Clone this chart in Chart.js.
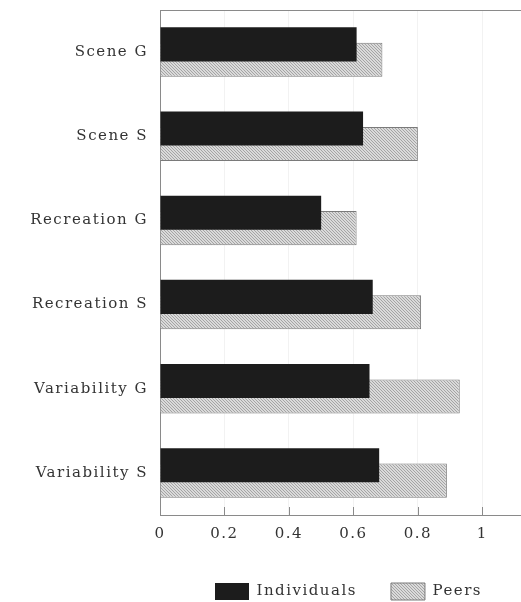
<!DOCTYPE html>
<html>
<head>
<meta charset="utf-8">
<script src="https://cdn.jsdelivr.net/npm/chart.js@4"></script>
<style>
  html, body { margin: 0; padding: 0; background: #fff; }
  #wrap { width: 521px; height: 602px; }
</style>
</head>
<body>
<div id="wrap"><canvas id="chart" width="521" height="602"></canvas></div>
<script>
const categories = ["Scene G", "Scene S", "Recreation G", "Recreation S", "Variability G", "Variability S"];
const individuals = [0.61, 0.63, 0.50, 0.66, 0.65, 0.68];
const peers = [0.69, 0.80, 0.61, 0.81, 0.93, 0.89];
const seriesNames = ["Individuals", "Peers"];
const xTicks = [0, 0.2, 0.4, 0.6, 0.8, 1];

const FONT = "'DejaVu Serif', 'Liberation Serif', serif";

// hatched fill for the Peers bars
function makeHatch() {
  const c = document.createElement("canvas");
  c.width = 3;
  c.height = 3;
  const g = c.getContext("2d");
  g.fillStyle = "#dadada";
  g.fillRect(0, 0, 3, 3);
  g.fillStyle = "#a4a4a4";
  for (let i = 0; i < 3; i++) g.fillRect(i, i, 1, 1);
  return g.createPattern(c, "repeat");
}
const hatch = makeHatch();

// the scanned original uses wide letter spacing
const spacingPlugin = {
  id: "spacing",
  beforeUpdate(chart) {
    chart.ctx.letterSpacing = "1.5px";
  },
  afterLayout(chart) {
    // legend sits a little right of the plot centre in the original
    chart.legend.left += 8;
    chart.legend.right += 8;
  },
  beforeDraw(chart) {
    chart.ctx.letterSpacing = "1.5px";
  },
};

// frame on top + small tick marks pointing up from the bottom axis
const framePlugin = {
  id: "frame",
  afterDatasetsDraw(chart) {
    const { ctx, chartArea } = chart;
    const xs = chart.scales.x;
    ctx.save();
    ctx.strokeStyle = "#8a8a8a";
    ctx.lineWidth = 1;
    ctx.beginPath();
    ctx.moveTo(chartArea.left, chartArea.top + 0.5);
    ctx.lineTo(chartArea.right, chartArea.top + 0.5);
    xTicks.forEach((v) => {
      if (v === 0) return;
      const px = Math.round(xs.getPixelForValue(v)) + 0.5;
      ctx.moveTo(px, chartArea.bottom);
      ctx.lineTo(px, chartArea.bottom - 8);
    });
    ctx.stroke();
    ctx.restore();
  },
};

new Chart(document.getElementById("chart"), {
  type: "bar",
  data: {
    labels: categories,
    datasets: [
      {
        label: seriesNames[0],
        data: individuals,
        backgroundColor: "#1c1c1c",
        borderWidth: 0,
        barPercentage: 2.2,
        categoryPercentage: 0.368,
      },
      {
        label: seriesNames[1],
        data: peers,
        backgroundColor: hatch,
        borderColor: "#7a7a7a",
        borderWidth: 1,
        barPercentage: 2.2,
        categoryPercentage: 0.368,
      },
    ],
  },
  options: {
    indexAxis: "y",
    responsive: false,
    animation: false,
    layout: { padding: { top: 10, right: 0, left: 0, bottom: -8 } },
    plugins: {
      legend: {
        position: "bottom",
        fullSize: false,
        labels: {
          boxWidth: 34,
          boxHeight: 17,
          padding: 34,
          color: "#333",
          font: { family: FONT, size: 15 },
        },
      },
      tooltip: { enabled: false },
    },
    scales: {
      x: {
        min: 0,
        max: 1.12,
        afterBuildTicks: (scale) => {
          scale.ticks = xTicks.map((v) => ({ value: v }));
        },
        afterFit: (scale) => {
          scale.height = 34;
        },
        ticks: {
          color: "#333",
          padding: 10,
          maxRotation: 0,
          font: { family: FONT, size: 15 },
          callback: (v) => String(v),
        },
        grid: {
          color: "rgba(0,0,0,0.05)",
          drawTicks: false,
        },
        border: { display: true, color: "#8a8a8a" },
      },
      y: {
        afterFit: (scale) => {
          scale.width = 160;
          scale.paddingTop = 0;
          scale.paddingBottom = 0;
        },
        ticks: {
          color: "#333",
          padding: 12,
          font: { family: FONT, size: 15 },
        },
        grid: { display: false, drawTicks: false },
        border: { display: true, color: "#8a8a8a" },
      },
    },
  },
  plugins: [spacingPlugin, framePlugin],
});
</script>
</body>
</html>
